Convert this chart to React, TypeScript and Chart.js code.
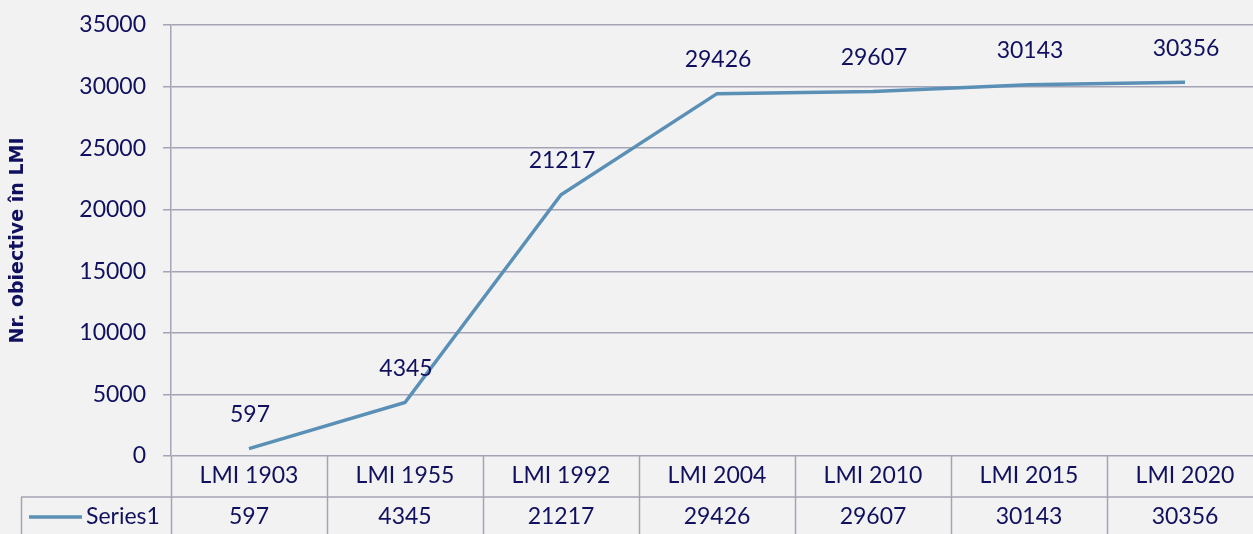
import React, { useEffect, useRef } from "react";
import { Chart, registerables } from "chart.js";

Chart.register(...registerables);

const categories = ["LMI 1903", "LMI 1955", "LMI 1992", "LMI 2004", "LMI 2010", "LMI 2015", "LMI 2020"];
const seriesName = "Series1";
const values = [597, 4345, 21217, 29426, 29607, 30143, 30356];
const yTitle = "Nr. obiective în LMI";

const FONT = "Lato";
const TEXT = "#10105f";
const GRID = "#a4a4b6";
const LINE = "#5a8fb6";
const BG = "#f2f2f2";

const tablePlugin = {
  id: "tablePlugin",
  afterDraw(chart: any) {
    const { ctx, chartArea, scales } = chart;
    const x = scales.x;
    const H = chart.height;
    const n = categories.length;
    const w = (chartArea.right - chartArea.left) / n;
    const rowY = 497;
    ctx.save();
    ctx.strokeStyle = GRID;
    ctx.lineWidth = 1.5;
    for (let i = 0; i <= n; i++) {
      const bx = i === 0 ? chartArea.left : (x.getPixelForValue(i - 1) + (i < n ? x.getPixelForValue(i) : x.getPixelForValue(i - 1) + w)) / 2;
      ctx.beginPath();
      ctx.moveTo(Math.round(bx) + 0.5, chartArea.bottom);
      ctx.lineTo(Math.round(bx) + 0.5, H);
      ctx.stroke();
    }
    ctx.beginPath();
    ctx.moveTo(21, rowY);
    ctx.lineTo(chartArea.right, rowY);
    ctx.stroke();
    ctx.beginPath();
    ctx.moveTo(21.5, rowY);
    ctx.lineTo(21.5, H);
    ctx.stroke();
    ctx.strokeStyle = LINE;
    ctx.lineWidth = 3.5;
    ctx.beginPath();
    ctx.moveTo(29, 517);
    ctx.lineTo(82, 517);
    ctx.stroke();
    ctx.fillStyle = TEXT;
    ctx.font = `23px ${FONT}`;
    ctx.textBaseline = "middle";
    ctx.textAlign = "left";
    ctx.fillText(seriesName, 86, 517);
    ctx.textAlign = "center";
    values.forEach((v, i) => {
      ctx.fillText(String(v), x.getPixelForValue(i), 517);
    });
    const meta = chart.getDatasetMeta(0);
    meta.data.forEach((pt: any, i: number) => {
      ctx.fillText(String(values[i]), pt.x + 1, pt.y - 34);
    });
    ctx.restore();
  },
};

const bgPlugin = {
  id: "bgPlugin",
  beforeDraw(chart: any) {
    const { ctx } = chart;
    ctx.save();
    ctx.fillStyle = BG;
    ctx.fillRect(0, 0, chart.width, chart.height);
    ctx.restore();
  },
};

export default function App() {
  const ref = useRef<HTMLCanvasElement>(null);
  useEffect(() => {
    document.body.style.margin = "0";
    document.body.style.background = BG;
    const chart = new Chart(ref.current as HTMLCanvasElement, {
      type: "line",
      data: {
        labels: categories,
        datasets: [
          {
            label: seriesName,
            data: values,
            borderColor: LINE,
            borderWidth: 3.5,
            pointRadius: 0,
            tension: 0,
            fill: false,
          },
        ],
      },
      options: {
        animation: false,
        responsive: false,
        maintainAspectRatio: false,
        layout: { padding: { top: 25, right: 0, bottom: 0, left: 0 } },
        plugins: { legend: { display: false }, tooltip: { enabled: false } },
        scales: {
          x: {
            offset: true,
            grid: { display: false, drawTicks: false },
            border: { display: false },
            ticks: {
              color: TEXT,
              font: { family: FONT, size: 23 },
              padding: 6,
              maxRotation: 0,
              autoSkip: false,
            },
            afterFit(scale: any) {
              scale.height = 78;
              scale.paddingLeft = 0;
              scale.paddingRight = 0;
            },
          },
          y: {
            min: 0,
            max: 35000,
            grid: { color: GRID, lineWidth: 1.5, tickLength: 8, drawTicks: true },
            border: { color: GRID, width: 1.5 },
            ticks: {
              stepSize: 5000,
              color: TEXT,
              font: { family: FONT, size: 23 },
              padding: 17,
              callback: (v: any) => String(v),
            },
            title: {
              display: true,
              text: yTitle,
              color: TEXT,
              font: { family: "DejaVu Sans", size: 19, weight: "bold" },
              padding: { top: 7, bottom: 0 },
            },
            afterFit(scale: any) {
              scale.width = 171;
              scale.paddingTop = 0;
              scale.paddingBottom = 0;
            },
          },
        },
      },
      plugins: [bgPlugin, tablePlugin],
    });
    return () => chart.destroy();
  }, []);
  return (
    <div style={{ width: 1253, height: 534, background: BG, overflow: "hidden" }}>
      <canvas ref={ref} width={1263} height={534} style={{ display: "block" }} />
    </div>
  );
}
